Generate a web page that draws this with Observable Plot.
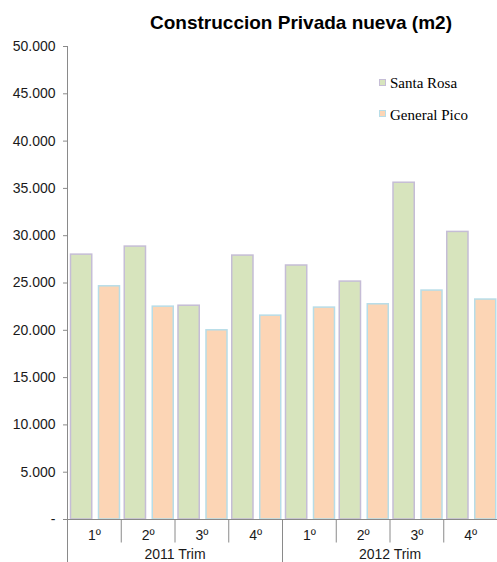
<!DOCTYPE html>
<html><head><meta charset="utf-8">
<script src="https://cdn.jsdelivr.net/npm/d3@7"></script>
<script src="https://cdn.jsdelivr.net/npm/@observablehq/plot@0.6"></script>
<style>
body{margin:0;background:#fff;}
#wrap{position:relative;width:497px;height:562px;overflow:hidden;font-family:"Liberation Sans",Arial,sans-serif;}
#title{position:relative;height:36px;}
#title span{position:absolute;left:150px;top:13px;font-size:19px;line-height:19px;font-weight:bold;color:#000;white-space:nowrap;}
.leg{position:absolute;font-family:"Liberation Serif","Times New Roman",serif;font-size:15px;line-height:15px;color:#000;white-space:pre;}
.sw{position:absolute;width:5px;height:5px;border:1px solid;}
</style></head><body>
<div id="wrap">
  <div id="title"><span>Construccion Privada nueva (m2)</span></div>
  <div id="chart"></div>
</div>
<script>
const years = ["2011 Trim", "2012 Trim"];
const quarters = ["1º", "2º", "3º", "4º"];
const series = ["Santa Rosa", "General Pico"];
const santaRosa = [28000, 28850, 22600, 27900, 26850, 25150, 35600, 30400];
const generalPico = [24650, 22500, 20000, 21550, 22400, 22750, 24200, 23250];
const yTicks = [0, 5000, 10000, 15000, 20000, 25000, 30000, 35000, 40000, 45000, 50000];

const fills = ["#d7e4bd", "#fcd5b5"];
const strokes = ["#c5bdd6", "#b7dde8"];

const periods = years.flatMap(y => quarters.map(q => y + "|" + q));
const rows = [];
periods.forEach((p, i) => {
  rows.push({period: p, series: series[0], value: santaRosa[i]});
  rows.push({period: p, series: series[1], value: generalPico[i]});
});

const W = 497, H = 526, mL = 67, mR = 0, mT = 10, mB = 43;
const bw = (W - mL - mR) / periods.length;
const plotH = H - mT - mB;
const axisColor = "#8a8a8a";
const fmt = d => d === 0 ? "-" : d3.format(",")(d).replace(/,/g, ".");

const chart = Plot.plot({
  width: W, height: H,
  marginLeft: mL, marginRight: mR, marginTop: mT, marginBottom: mB,
  style: {fontFamily: "'Liberation Sans', Arial, sans-serif", fontSize: "14px", background: "#fff"},
  x: {type: "band", domain: periods, padding: 0, round: false, axis: null},
  y: {domain: [0, 50000], axis: null},
  marks: [
    Plot.barY(rows.filter(d => d.series === series[0]), {x: "period", y: "value", fill: fills[0], stroke: strokes[0], strokeWidth: 1.5, insetLeft: 3.5, insetRight: 29}),
    Plot.barY(rows.filter(d => d.series === series[1]), {x: "period", y: "value", fill: fills[1], stroke: strokes[1], strokeWidth: 1.5, insetLeft: 31.5, insetRight: 1.25}),
    Plot.axisY(yTicks, {tickSize: 4, tickPadding: 8, tickFormat: fmt, fontSize: 14, stroke: axisColor, fill: "#1a1a1a", label: null}),
    Plot.ruleX([periods[0]], {x: d => d, dx: -bw / 2, y1: 0, y2: 50000, stroke: axisColor}),
    Plot.ruleY([0], {stroke: axisColor}),
    Plot.ruleX(periods, {x: d => d, dx: -bw / 2, insetTop: plotH, insetBottom: -23.5, stroke: axisColor}),
    Plot.ruleX([periods[0], periods[4]], {x: d => d, dx: -bw / 2, insetTop: plotH, insetBottom: -mB, stroke: axisColor}),
    Plot.text(periods, {x: d => d, text: d => d.split("|")[1], frameAnchor: "bottom", lineAnchor: "bottom", dy: 20, fontSize: 14, fill: "#1a1a1a"}),
    Plot.text(years, {x: (d, i) => periods[i * 4 + 1], dx: bw / 2, text: d => d, frameAnchor: "bottom", lineAnchor: "bottom", dy: 39, fontSize: 14, fill: "#1a1a1a"})
  ]
});
document.getElementById("chart").appendChild(chart);

// legend
const wrap = document.getElementById("wrap");
const legTops = [76.4, 108.4];
const swTops = [79, 110];
series.forEach((s, i) => {
  const sw = document.createElement("div");
  sw.className = "sw";
  sw.style.left = "379px";
  sw.style.top = swTops[i] + "px";
  sw.style.background = fills[i];
  sw.style.borderColor = strokes[i];
  wrap.appendChild(sw);
  const t = document.createElement("div");
  t.className = "leg";
  t.style.left = "390px";
  t.style.top = legTops[i] + "px";
  t.textContent = s;
  wrap.appendChild(t);
});
</script>
</body></html>
